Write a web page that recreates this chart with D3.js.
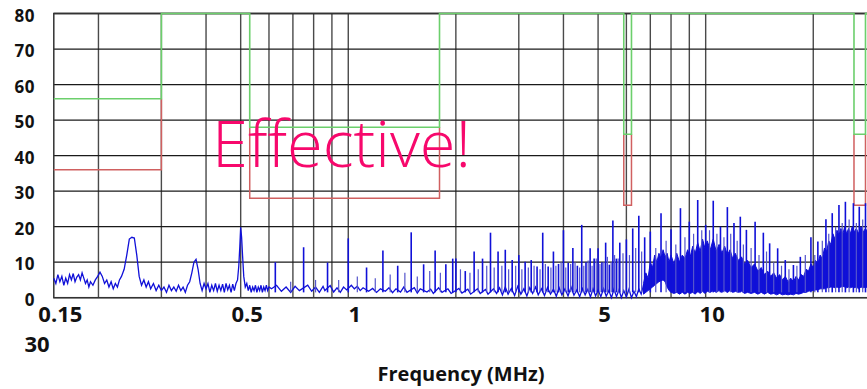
<!DOCTYPE html>
<html>
<head>
<meta charset="utf-8">
<script src="https://cdn.jsdelivr.net/npm/d3@7"></script>
<style>
    body { margin: 0; background: #fff; }
    svg { display: block; }
    .lbl { font-family: "Open Sans", sans-serif; font-weight: bold; fill: #111; }
</style>
</head>
<body>
<div id="chart"></div>
<script>
// axis ticks and grid
const xTickValues = [0.15, 0.5, 1, 5, 10];
const xTickLabels = ['0.15', '0.5', '1', '5', '10'];
const extraXLabel = '30';
const yTickValues = [0, 10, 20, 30, 40, 50, 60, 70, 80];
const gridFreqs = [0.2, 0.3, 0.4, 0.5, 0.6, 0.7, 0.8, 0.9, 1, 2, 3, 4, 5, 6, 7, 8, 9, 10, 20];
const xTitle = 'Frequency (MHz)';
const note = 'Effective!';

// limit lines (green = upper, red = lower), null breaks the line
const upperFreq  = [0.15, 0.3, 0.3, 0.53, 0.53, 1.8, 1.8, 5.9, 5.9, 6.2, 6.2, 26, 26, 28, 28, 30];
const upperLevel = [56, 56, 80, 80, 48, 48, 80, 80, 46, 46, 80, 80, 46, 46, 80, 80];
const lowerFreq  = [0.15, 0.3, 0.3, null, 0.53, 0.53, 1.8, 1.8, null, 5.9, 5.9, 6.2, 6.2, null, 26, 26, 28, 28];
const lowerLevel = [36, 36, 56, null, 48, 28, 28, 48, null, 46, 26, 26, 46, null, 46, 26, 26, 46];

// measured trace, below ~6.7 MHz
const traceFreq = [0.150, 0.152, 0.154, 0.156, 0.158, 0.160, 0.162, 0.164, 0.166, 0.168, 0.170, 0.172, 0.174, 0.176, 0.178,
    0.180, 0.182, 0.184, 0.186, 0.188, 0.190, 0.193, 0.196, 0.199, 0.202, 0.205, 0.208, 0.211, 0.214, 0.217, 0.220,
    0.223, 0.226, 0.229, 0.232, 0.236, 0.240, 0.244, 0.248, 0.252, 0.256, 0.260, 0.264, 0.268, 0.272, 0.276, 0.280,
    0.285, 0.290, 0.295, 0.300, 0.305, 0.310, 0.315, 0.320, 0.325, 0.330, 0.335, 0.340, 0.345, 0.350, 0.355, 0.360,
    0.365, 0.370, 0.375, 0.380, 0.385, 0.390, 0.395, 0.400, 0.405, 0.410, 0.415, 0.420, 0.425, 0.430, 0.435, 0.440,
    0.445, 0.450, 0.455, 0.460, 0.465, 0.470, 0.475, 0.480, 0.485, 0.490, 0.494, 0.497, 0.500, 0.503, 0.506, 0.510,
    0.515, 0.520, 0.525, 0.530, 0.535, 0.540, 0.545, 0.550, 0.555, 0.560, 0.565, 0.570, 0.575, 0.580, 0.585, 0.590,
    0.595, 0.600, 0.61, 0.63, 0.65, 0.67, 0.69, 0.71, 0.73, 0.77, 0.79, 0.81, 0.83, 0.85, 0.86, 0.89, 0.91, 0.93,
    0.95, 0.97, 0.99, 1.02, 1.04, 1.06, 1.08, 1.10, 1.14, 1.17, 1.20, 1.23, 1.27, 1.30, 1.33, 1.36, 1.40, 1.43, 1.46,
    1.53, 1.56, 1.59, 1.66, 1.70, 1.73, 1.79, 1.83, 1.90, 1.94, 2.04, 2.08, 2.16, 2.20, 2.30, 2.34, 2.42, 2.46, 2.55, 2.60,
    2.65, 2.70, 2.75, 2.80, 2.86, 2.92, 2.98, 3.04, 3.10, 3.16, 3.22, 3.28, 3.34, 3.40, 3.47, 3.54, 3.61, 3.68, 3.75,
    3.82, 3.89, 3.96, 4.04, 4.12, 4.20, 4.28, 4.36, 4.44, 4.52, 4.60, 4.68, 4.76, 4.84, 4.92, 5.00, 5.09, 5.18, 5.27,
    5.36, 5.45, 5.54, 5.63, 5.72, 5.81, 5.90, 6.00, 6.10, 6.20, 6.30, 6.40, 6.50, 6.60, 6.70];
const traceLevel = [5.5, 4.0, 6.5, 4.5, 6.0, 3.5, 5.5, 4.0, 6.5, 5.0, 6.8, 4.5, 5.8, 6.5, 5.0,
    7.0, 5.5, 4.0, 5.0, 3.0, 4.5, 3.5, 5.0, 6.0, 7.2, 6.0, 4.0, 5.0, 3.0, 4.5, 2.5,
    4.0, 3.0, 5.0, 6.0, 8.0, 12.0, 16.5, 17.0, 16.8, 12.0, 6.0, 3.5, 5.0, 3.0, 4.5, 2.5,
    4.0, 2.0, 3.5, 2.0, 3.0, 1.5, 3.5, 2.0, 3.0, 1.8, 3.5, 2.0, 3.0, 1.5, 3.5, 4.5,
    7.0, 10.0, 10.8, 8.0, 4.0, 2.0, 4.0, 2.5, 4.0, 1.5, 3.5, 2.0, 4.0, 1.8, 3.5, 2.0,
    3.8, 1.5, 4.0, 2.2, 3.5, 1.5, 3.8, 2.0, 4.0, 5.0, 9.0, 14.0, 19.8, 17.0, 12.0, 6.0,
    3.0, 4.0, 2.0, 3.5, 1.5, 3.0, 2.0, 3.5, 1.5, 3.0, 2.0, 3.5, 1.5, 3.0, 2.0, 3.5,
    2.0, 3.0, 2.5, 3.5, 1.8, 3.0, 1.5, 3.2, 2.0, 3.5, 1.8, 3.0, 1.5, 3.2, 2.0, 3.4, 1.6, 2.8,
    1.5, 3.0, 2.2, 3.5, 2.5, 3.2, 2.0, 2.8, 1.8, 2.6, 1.5, 2.5, 1.8, 2.8, 1.4, 2.5, 1.6, 3.0, 1.5,
    2.8, 1.3, 2.5, 1.6, 2.4, 1.2, 2.8, 1.5, 2.5, 1.2, 2.6, 1.3, 2.4, 1.0, 2.5, 1.2, 2.3, 1.0, 2.5, 1.2,
    2.8, 0.8, 3.0, 1.0, 2.6, 0.6, 3.2, 1.0, 2.5, 0.5, 2.8, 1.2, 3.0, 0.8, 2.5, 0.6, 2.9, 1.0, 2.4,
    0.4, 2.8, 0.8, 2.5, 0.5, 3.0, 0.7, 2.2, 0.3, 2.6, 0.8, 2.4, 0.2, 2.5, 0.5, 2.2, 0.3, 2.6, 0.4,
    2.0, 0.0, 2.4, 0.3, 2.2, 0.0, 2.0, 0.2, 2.4, 0.0, 1.8, 0.3, 2.5, 1.0, 3.5];

// harmonic spikes
const spikeFreq = [0.625, 0.75, 0.875, 1.0, 1.125, 1.25, 1.375, 1.5, 1.625, 1.75, 1.875, 1.96, 2.0, 2.125, 2.25, 2.375,
    2.5, 2.625, 2.75, 2.875, 3.0, 3.125, 3.25, 3.375, 3.5, 3.625, 3.75, 3.875, 4.0, 4.125, 4.25, 4.375, 4.5, 4.625,
    4.75, 4.875, 5.0, 5.125, 5.25, 5.375, 5.5, 5.625, 5.75, 6.0, 6.25, 6.5, 6.75, 7.0, 7.5, 8.0, 8.5, 9.0, 9.5, 10.0,
    10.5, 11.0, 11.5, 12.0, 12.5, 13.0, 13.75, 14.5, 15.1, 15.9, 16.7, 17.6, 18.4, 19.7, 20.6, 21.7, 22.6, 23.6, 24.6,
    25.9, 26.9, 28.0, 29.0];
const spikeLevel = [10.0, 14.2, 9.9, 16.7, 8.5, 13.3, 9.0, 18.4, 9.4, 13.3, 9.4, 11.0, 11.0, 7.5, 13.0, 11.0,
    18.3, 13.0, 13.5, 10.6, 12.0, 10.1, 10.6, 8.8, 18.3, 8.8, 13.0, 9.5, 19.0, 9.8, 14.0, 9.0, 20.5, 10.0,
    13.9, 11.0, 13.9, 10.0, 15.5, 9.3, 21.7, 11.0, 15.5, 16.4, 19.5, 23.1, 17.0, 18.6, 23.8, 19.3, 25.2, 21.4, 27.5, 20.5,
    27.3, 20.0, 25.5, 21.0, 22.8, 19.1, 21.4, 18.3, 15.3, 13.9, 10.6, 9.2, 11.5, 17.0, 15.8, 22.1, 23.8, 26.1, 27.0,
    26.6, 25.6, 26.6, 25.0];

// smaller in-between spikes
const minorFreq = [0.69, 0.81, 0.94, 1.06, 1.19, 1.31, 1.44, 1.56, 1.69, 1.81, 2.06, 2.19, 2.31, 2.44, 2.56, 2.69,
    2.81, 2.94, 3.06, 3.19, 3.31, 3.44, 3.56, 3.69, 3.81, 3.94, 4.06, 4.19, 4.31, 4.44, 4.56, 4.69, 4.81, 4.94,
    5.06, 5.19, 5.31, 5.44, 5.56, 5.69, 5.87, 6.12, 6.37, 6.62, 7.25, 7.75, 8.25, 8.75, 9.25, 9.75, 10.25, 10.75,
    11.25, 11.75, 12.25, 12.75, 13.4, 14.1, 14.8, 15.5, 16.3, 17.1, 18.0, 19.0, 20.2, 21.2, 22.1, 23.1, 24.1,
    25.2, 26.4, 27.5, 28.5];
const minorLevel = [4.5, 5.0, 5.0, 6.0, 5.5, 6.5, 7.0, 6.0, 7.5, 7.0, 8.0, 7.0, 8.0, 9.0, 8.5, 9.0,
    8.0, 9.0, 8.0, 8.5, 9.0, 8.0, 9.5, 8.5, 9.0, 10.0, 8.5, 9.5, 10.0, 8.5, 9.0, 10.5, 9.0, 11.0,
    9.5, 10.0, 11.5, 10.0, 12.0, 11.0, 12.5, 12.0, 14.0, 13.0, 14.0, 16.0, 15.0, 17.0, 18.0, 19.0, 19.0, 18.0,
    17.0, 18.0, 16.0, 15.0, 14.0, 12.0, 13.0, 10.0, 9.0, 8.0, 9.0, 12.0, 12.0, 16.0, 18.0, 20.0, 21.0,
    22.0, 21.0, 22.0, 21.0];

// dense high frequency band (lower / upper envelope)
const bandFreq = [6.7, 6.8, 6.9, 7.0, 7.1, 7.2, 7.3, 7.4, 7.5, 7.6, 7.7, 7.8, 7.9, 8.0, 8.15, 8.3, 8.45, 8.6, 8.75,
    8.9, 9.05, 9.2, 9.35, 9.5, 9.65, 9.8, 9.95, 10.1, 10.3, 10.5, 10.7, 10.9, 11.1, 11.3, 11.5, 11.7, 11.9, 12.1,
    12.35, 12.6, 12.85, 13.1, 13.4, 13.7, 14.0, 14.3, 14.6, 14.9, 15.2, 15.5, 15.8, 16.1, 16.4, 16.7, 17.0, 17.3,
    17.6, 17.9, 18.2, 18.5, 18.8, 19.1, 19.4, 19.7, 20.0, 20.3, 20.6, 20.9, 21.2, 21.5, 21.8, 22.1, 22.4, 22.7,
    23.0, 23.3, 23.6, 23.9, 24.2, 24.5, 24.8, 25.1, 25.4, 25.7, 26.0, 26.4, 26.8, 27.2, 27.6, 28.0, 28.5, 29.0,
    29.5, 30.0];
const bandLow = [1.0, 1.5, 2.0, 2.5, 3.0, 3.5, 4.0, 4.5, 4.8, 5.0, 4.5, 3.0, 2.0, 1.5, 1.2, 1.5, 1.0, 1.5, 1.0,
    1.5, 1.2, 1.5, 1.0, 1.8, 1.2, 1.8, 1.2, 1.8, 1.5, 2.0, 1.5, 2.0, 1.5, 2.0, 1.5, 2.0, 1.5, 1.8,
    1.5, 1.8, 1.2, 1.5, 1.2, 1.5, 1.0, 1.5, 1.0, 1.5, 1.0, 1.2, 0.8, 1.2, 0.8, 1.0, 0.8, 1.0,
    0.8, 1.2, 1.0, 1.2, 1.5, 1.5, 1.8, 2.0, 2.0, 2.2, 2.2, 2.5, 2.5, 2.5, 2.8, 2.8, 3.0, 3.0,
    2.8, 3.0, 2.8, 3.0, 3.2, 3.0, 2.8, 3.0, 2.8, 3.0, 2.8, 3.0, 2.5, 3.0, 2.8, 3.0, 2.8, 3.0,
    2.8, 3.0];
const bandHigh = [4.0, 7.0, 5.5, 10.0, 8.5, 12.0, 10.0, 12.5, 11.0, 13.5, 11.5, 12.5, 10.0, 12.0, 9.5, 12.5, 10.0, 12.0, 11.0,
    13.5, 11.5, 14.5, 12.5, 15.5, 13.0, 16.5, 14.0, 16.0, 13.5, 16.5, 13.0, 15.0, 12.5, 14.5, 12.0, 13.5, 11.0, 12.5,
    10.5, 11.5, 9.5, 10.5, 8.5, 9.5, 7.5, 8.5, 6.5, 7.5, 6.0, 7.0, 5.5, 6.5, 5.0, 6.0, 4.5, 5.5,
    4.5, 6.0, 5.0, 6.5, 6.0, 8.0, 7.5, 9.5, 8.5, 10.5, 9.5, 12.0, 11.0, 14.0, 13.0, 16.0, 15.0, 18.0,
    16.5, 19.0, 17.5, 19.5, 18.0, 20.0, 18.0, 19.5, 18.0, 20.0, 18.5, 19.5, 18.0, 20.0, 18.5, 19.5, 18.0, 19.5,
    18.5, 19.0];
const spikeBase = 1.5;

const width = 867, height = 389;
const margin = { left: 53.8, top: 13.5, bottom: 91.3 };

const svg = d3.select('#chart').append('svg')
    .attr('width', width)
    .attr('height', height);

// log x axis: one decade is about 357 px, so 30 MHz ends just past the right edge
const x = d3.scaleLog()
    .domain([0.15, 30])
    .range([margin.left, margin.left + 822.4]);
const y = d3.scaleLinear()
    .domain([0, 80])
    .range([height - margin.bottom, margin.top]);

// grid
svg.append('g').selectAll('line')
    .data(gridFreqs)
    .join('line')
    .attr('x1', d => x(d)).attr('x2', d => x(d))
    .attr('y1', y(0)).attr('y2', y(80))
    .attr('stroke', '#4a4a4a')
    .attr('stroke-width', 1.4);

svg.append('g').selectAll('line')
    .data(yTickValues)
    .join('line')
    .attr('x1', x(0.15)).attr('x2', x(30))
    .attr('y1', d => y(d)).attr('y2', d => y(d))
    .attr('stroke', '#1a1a1a')
    .attr('stroke-width', 1.3);

svg.append('rect')
    .attr('x', x(0.15)).attr('y', y(80))
    .attr('width', x(30) - x(0.15))
    .attr('height', y(0) - y(80))
    .attr('fill', 'none')
    .attr('stroke', '#333')
    .attr('stroke-width', 1.5);

// limits
const upper = upperFreq.map((f, i) => ({ f: f, v: upperLevel[i] }));
const lower = lowerFreq.map((f, i) => ({ f: f, v: lowerLevel[i] }));
const limitLine = d3.line()
    .defined(d => d.f != null)
    .x(d => x(d.f))
    .y(d => y(d.v));

svg.append('path')
    .datum(lower)
    .attr('d', limitLine)
    .attr('fill', 'none')
    .attr('stroke', '#d06060')
    .attr('stroke-width', 1.5);

svg.append('path')
    .datum(upper)
    .attr('d', limitLine)
    .attr('fill', 'none')
    .attr('stroke', '#6ccf6c')
    .attr('stroke-width', 1.6);

// data
const blue = '#1010d8';
const band = bandFreq.map((f, i) => ({ f: f, lo: bandLow[i], hi: bandHigh[i] }));
svg.append('path')
    .datum(band)
    .attr('d', d3.area().x(d => x(d.f)).y0(d => y(d.lo)).y1(d => y(d.hi)))
    .attr('fill', blue)
    .attr('stroke', blue)
    .attr('stroke-width', 1);

const trace = traceFreq.map((f, i) => ({ f: f, v: traceLevel[i] }));
svg.append('path')
    .datum(trace)
    .attr('d', d3.line().x(d => x(d.f)).y(d => y(d.v)))
    .attr('fill', 'none')
    .attr('stroke', blue)
    .attr('stroke-width', 1.3);

const minors = minorFreq.map((f, i) => ({ f: f, v: minorLevel[i] }));
svg.append('g').selectAll('line')
    .data(minors)
    .join('line')
    .attr('x1', d => x(d.f)).attr('x2', d => x(d.f))
    .attr('y1', y(spikeBase)).attr('y2', d => y(d.v))
    .attr('stroke', '#5555cc')
    .attr('stroke-width', 1.2);

const spikes = spikeFreq.map((f, i) => ({ f: f, v: spikeLevel[i] }));
svg.append('g').selectAll('line')
    .data(spikes)
    .join('line')
    .attr('x1', d => x(d.f)).attr('x2', d => x(d.f))
    .attr('y1', y(spikeBase)).attr('y2', d => y(d.v))
    .attr('stroke', blue)
    .attr('stroke-width', 1.6);

// axes labels
const xAxis = d3.axisBottom(x)
    .tickValues(xTickValues)
    .tickSize(0)
    .tickPadding(9)
    .tickFormat((d, i) => xTickLabels[i]);

const xAxisG = svg.append('g')
    .attr('transform', `translate(6,${y(0)})`)
    .call(xAxis);
xAxisG.select('.domain').remove();
xAxisG.selectAll('text')
    .attr('class', 'lbl')
    .style('font-size', '22px');

svg.append('text')
    .attr('class', 'lbl')
    .attr('x', 37)
    .attr('y', 352)
    .attr('text-anchor', 'middle')
    .style('font-size', '22px')
    .text(extraXLabel);

svg.append('g').selectAll('text')
    .data(yTickValues)
    .join('text')
    .attr('class', 'lbl')
    .attr('x', 35)
    .attr('y', d => y(d) + 2)
    .attr('dy', '0.36em')
    .attr('text-anchor', 'end')
    .style('font-size', '17px')
    .style('letter-spacing', '0.5px')
    .text(d => d);

svg.append('text')
    .attr('class', 'lbl')
    .attr('x', 461)
    .attr('y', 381)
    .attr('text-anchor', 'middle')
    .style('font-size', '20px')
    .text(xTitle);

// annotation
svg.append('text')
    .attr('x', 212)
    .attr('y', 167)
    .style('font-family', '"Open Sans", sans-serif')
    .style('font-weight', 300)
    .style('font-size', '65px')
    .attr('fill', '#f7086c')
    .text(note);
</script>
</body>
</html>
